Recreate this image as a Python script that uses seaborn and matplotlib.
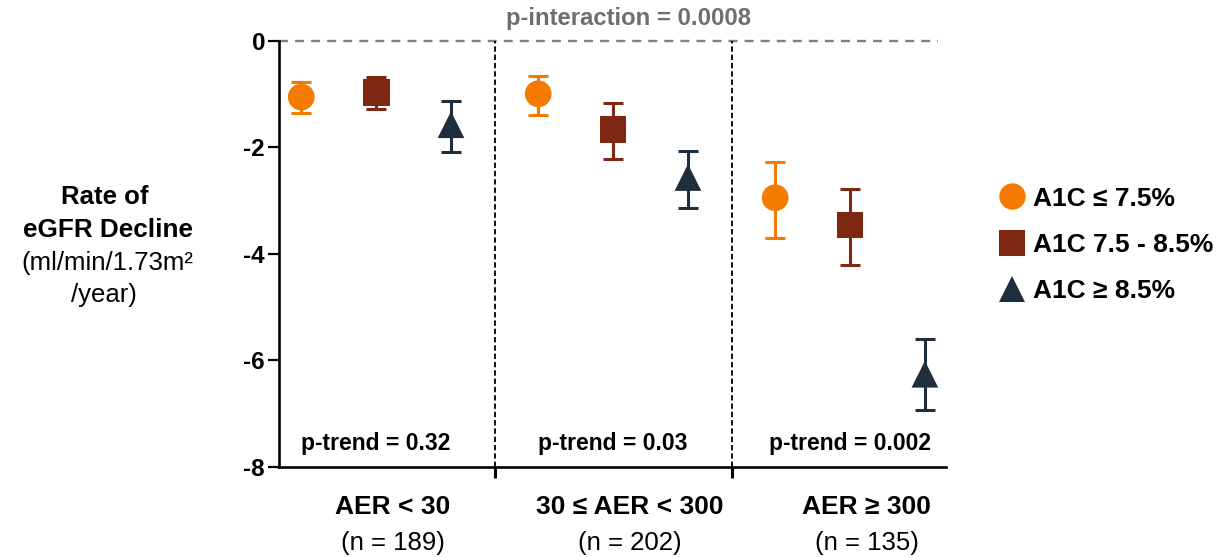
import matplotlib
matplotlib.use("Agg")
import matplotlib.pyplot as plt
from matplotlib.lines import Line2D
import seaborn as sns
import pandas as pd
import numpy as np

# ---------------- data ----------------
groups = ["AER < 30", "30 ≤ AER < 300", "AER ≥ 300"]
group_n = ["(n = 189)", "(n = 202)", "(n = 135)"]
categories = ["A1C ≤ 7.5%", "A1C 7.5 - 8.5%", "A1C ≥ 8.5%"]

# rate of eGFR decline (mean) per group, one list per A1C category
low_a1c = [-1.06, -1.00, -2.95]
mid_a1c = [-0.97, -1.67, -3.46]
high_a1c = [-1.58, -2.57, -6.26]

# error bar upper / lower ends
low_upper = [-0.77, -0.66, -2.27]
low_lower = [-1.36, -1.40, -3.71]
mid_upper = [-0.68, -1.18, -2.79]
mid_lower = [-1.28, -2.22, -4.22]
high_upper = [-1.13, -2.07, -5.60]
high_lower = [-2.10, -3.14, -6.94]

p_trend = ["p-trend = 0.32", "p-trend = 0.03", "p-trend = 0.002"]
p_interaction = "p-interaction = 0.0008"
y_ticks = [0, -2, -4, -6, -8]

colors = ["#F47A00", "#7E2812", "#1F2E3C"]
markers = ["o", "s", "^"]

# ---------------- frame ----------------
means = [low_a1c, mid_a1c, high_a1c]
uppers = [low_upper, mid_upper, high_upper]
lowers = [low_lower, mid_lower, high_lower]
offset = 0.316
rows = []
for ci, cat in enumerate(categories):
    for gi, g in enumerate(groups):
        rows.append(dict(group=g, gidx=gi, cat=cat, x=gi + (ci - 1) * offset,
                         y=means[ci][gi], hi=uppers[ci][gi], lo=lowers[ci][gi]))
df = pd.DataFrame(rows)

sns.set_theme(style="white")
plt.rcParams["font.family"] = ["Liberation Sans", "DejaVu Sans"]
for k in ["text.color", "axes.labelcolor", "xtick.color", "ytick.color"]:
    plt.rcParams[k] = "black"

fig = plt.figure(figsize=(12.25, 5.57), dpi=100)
ax = fig.add_axes([279 / 1225, 1 - 467 / 557, (946 - 279) / 1225, (467 - 40.5) / 557])

# error bars
for ci, cat in enumerate(categories):
    sub = df[df["cat"] == cat]
    ax.errorbar(sub["x"], sub["y"],
                yerr=[sub["y"] - sub["lo"], sub["hi"] - sub["y"]],
                fmt="none", ecolor=colors[ci], elinewidth=2.2, capsize=7,
                capthick=2.2, zorder=3)

sns.scatterplot(data=df, x="x", y="y", hue="cat", style="cat",
                hue_order=categories, style_order=categories,
                palette=colors, markers=markers, s=370, linewidth=0,
                ax=ax, legend=False, zorder=4)

ax.set_xlim(-0.41, 2.405)
ax.set_ylim(-8, 0)

# top reference line at 0
ax.plot([-0.41, 2.37], [0, 0], color="#808080", lw=1.7,
        linestyle=(0, (3.8, 3.0)), clip_on=False, zorder=2)
# group dividers
for xd in [0.5, 1.5]:
    ax.plot([xd, xd], [-8, 0], color="black", lw=1.3,
            linestyle=(0, (3.0, 1.6)), clip_on=False, zorder=2)

# spines / ticks
sns.despine(ax=ax, top=True, right=True)
for s in ["left", "bottom"]:
    ax.spines[s].set_color("black")
    ax.spines[s].set_linewidth(1.9)
ax.set_yticks(y_ticks)
ax.set_yticklabels([str(t) for t in y_ticks], fontsize=17.5, fontweight="bold")
ax.set_xticks([0.5, 1.5])
ax.set_xticklabels([])
ax.tick_params(axis="y", direction="out", length=8, width=1.6, pad=2, left=True)
ax.tick_params(axis="x", direction="out", length=8, width=2.2, bottom=True)
ax.set_xlabel("")
ax.set_ylabel("")

# p-trend texts
for gi, t in enumerate(p_trend):
    ax.text(gi, -7.56, t, ha="center", va="center", fontsize=16.5, fontweight="bold")

# group labels
xtr = ax.get_xaxis_transform()
for gi, (g, n) in enumerate(zip(groups, group_n)):
    ax.text(gi + 0.07, -0.094, g, transform=xtr, ha="center", va="center",
            fontsize=19, fontweight="bold")
    ax.text(gi + 0.07, -0.178, n, transform=xtr, ha="center", va="center",
            fontsize=18.5)

# p-interaction
fig.text(628 / 1225, 1 - 19 / 557, p_interaction, ha="center", va="center",
         fontsize=17.2, fontweight="bold", color="#6E6E6E")

# y label
fig.text(105 / 1225, 1 - 197 / 557, "Rate of", ha="center", va="center",
         fontsize=18.5, fontweight="bold")
fig.text(108 / 1225, 1 - 230 / 557, "eGFR Decline", ha="center", va="center",
         fontsize=18.8, fontweight="bold")
fig.text(107 / 1225, 1 - 263 / 557, "(ml/min/1.73m²", ha="center", va="center",
         fontsize=18.5)
fig.text(104 / 1225, 1 - 295 / 557, "/year)", ha="center", va="center",
         fontsize=18.5)

# legend
handles = [Line2D([0], [0], marker=m, color="none", markerfacecolor=c,
                  markeredgewidth=0, markersize=19, label=l)
           for m, c, l in zip(markers, colors, categories)]
leg = fig.legend(handles=handles, loc="center left",
                 bbox_to_anchor=(975 / 1225, 1 - 245 / 557),
                 frameon=False, handlelength=1.0, handletextpad=0.3,
                 labelspacing=0.85, prop=dict(size=19, weight="bold"))

fig.savefig("out.png", dpi=100)
